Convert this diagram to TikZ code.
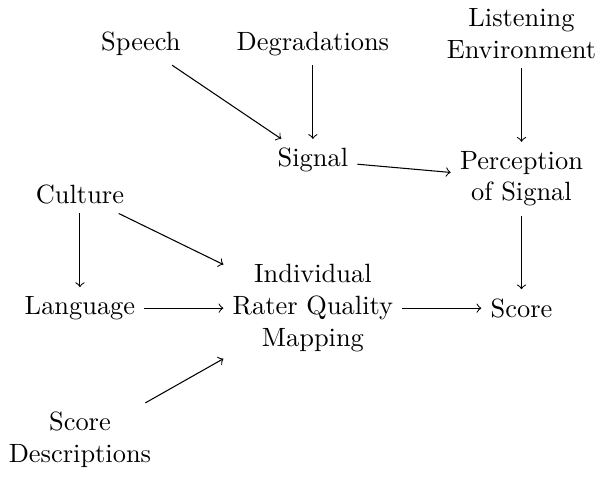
\documentclass[tikz,border=0pt]{standalone}
\usetikzlibrary{positioning}
\begin{document}
\begin{tikzpicture}[node distance=0.98cm and 1.05cm,every node/.style={align=center}]
\node(mapping){Individual\\Rater Quality\\Mapping};
\node[left=of mapping](language){Language};
\node[right=of mapping](score){Score};
\node[above=of language](culture){Culture};
\node[below=of language](descriptions){Score\\Descriptions};
\node[above=of score](perception){Perception\\of Signal};
\node[above=of perception](environment){Listening\\Environment};
\node[above=of mapping](signal){Signal};
\node[above=of signal](degradations){Degradations};
\node[left=0.5cm of degradations](speech){Speech};
\draw[->](speech)--(signal);
\draw[->](degradations)--(signal);
\draw[->](environment)--(perception);
\draw[->](signal)--(perception);
\draw[->](perception)--(score);
\draw[->](culture)--(language);
\draw[->](culture)--(mapping);
\draw[->](language)--(mapping);
\draw[->](descriptions)--(mapping);
\draw[->](mapping)--(score);
\end{tikzpicture}
\end{document}
